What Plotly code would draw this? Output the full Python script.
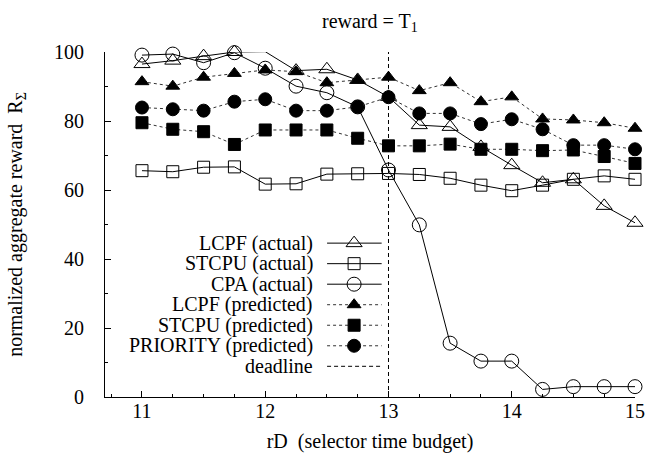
import plotly.graph_objects as go

# ---------------- data ----------------
x_budget = [11, 11.25, 11.5, 11.75, 12, 12.25, 12.5, 12.75, 13,
            13.25, 13.5, 13.75, 14, 14.25, 14.5, 14.75, 15]

lcpf_actual = [96.5, 97.5, 98.8, 100, 100.1, 94.6, 95.0, 91.9, 87.0,
               78.8, 78.3, 72.5, 67.2, 62.1, 63.1, 55.4, 50.5]
stcpu_actual = [65.6, 65.3, 66.6, 66.7, 61.7, 61.8, 64.6, 64.7, 64.8,
                64.5, 63.4, 61.4, 59.8, 61.4, 63.1, 64.1, 63.1]
cpa_actual = [99.1, 99.4, 96.9, 99.8, 95.3, 90.1, 88.2, 84.1, 65.8,
              49.9, 15.6, 10.4, 10.4, 2.2, 3.0, 3.0, 3.0]
lcpf_pred = [91.4, 90.1, 92.7, 93.8, 94.8, 94.3, 91.1, 91.9, 92.7,
             88.8, 91.1, 85.6, 87.0, 80.6, 80.3, 79.5, 77.9]
stcpu_pred = [79.5, 77.6, 76.9, 73.2, 77.4, 77.4, 77.4, 75.0, 72.8,
              72.8, 73.3, 71.8, 71.8, 71.4, 71.6, 69.7, 67.7]
priority_pred = [83.9, 83.4, 83.0, 85.6, 86.3, 83.0, 83.0, 84.1, 86.9,
                 82.2, 82.2, 79.1, 80.5, 77.6, 73.0, 73.0, 71.8]

deadline_x = [13, 13]
deadline_y = [0, 100]

series_names = ["LCPF (actual)", "STCPU (actual)", "CPA (actual)",
                "LCPF (predicted)", "STCPU (predicted)", "PRIORITY (predicted)",
                "deadline"]

x_ticks = [11, 12, 13, 14, 15]
y_ticks = [0, 20, 40, 60, 80, 100]

# ---------------- styles ----------------
FONT = "Liberation Serif, Times New Roman, Times, serif"
FS = 20
BLACK = "black"
DOT = "#333333"
DASH = "4px,3px"

styles = [
    dict(data=lcpf_actual, dash="solid", color=BLACK, symbol="triangle-up-open", size=14),
    dict(data=stcpu_actual, dash="solid", color=BLACK, symbol="square-open", size=12),
    dict(data=cpa_actual, dash="solid", color=BLACK, symbol="circle-open", size=14),
    dict(data=lcpf_pred, dash="dot", color=DOT, symbol="triangle-up", size=12),
    dict(data=stcpu_pred, dash="dot", color=DOT, symbol="square", size=12),
    dict(data=priority_pred, dash="dot", color=DOT, symbol="circle", size=13),
]

fig = go.Figure()

for name, st in zip(series_names, styles):
    fig.add_trace(go.Scatter(
        x=x_budget, y=st["data"], name=name, mode="lines+markers",
        line=dict(color=st["color"], width=1, dash=st["dash"]),
        marker=dict(symbol=st["symbol"], size=st["size"], color=BLACK,
                    line=dict(color=BLACK, width=1)),
        cliponaxis=False, showlegend=False,
    ))

fig.add_trace(go.Scatter(
    x=deadline_x, y=deadline_y, name=series_names[6], mode="lines",
    line=dict(color=BLACK, width=1, dash=DASH),
    cliponaxis=False, showlegend=False,
))

# ---------------- gnuplot-style key (text left, sample right) ----------------
key_text_x = 0.397
key_x0, key_xm, key_x1 = 0.419, 0.470, 0.522
key_top = 0.446
key_step = 0.0595

annotations = []
all_styles = styles + [dict(dash=DASH, color=BLACK, symbol=None, size=0)]
for i, (name, st) in enumerate(zip(series_names, all_styles)):
    yk = key_top - i * key_step
    annotations.append(dict(x=key_text_x, y=yk, xref="paper", yref="paper",
                            text=name, showarrow=False, xanchor="right",
                            yanchor="middle", font=dict(family=FONT, size=FS, color=BLACK)))
    fig.add_trace(go.Scatter(
        x=[key_x0, key_x1], y=[yk, yk], xaxis="x2", yaxis="y2", mode="lines",
        line=dict(color=st["color"], width=1, dash=st["dash"]),
        showlegend=False, hoverinfo="skip", cliponaxis=False,
    ))
    if st["symbol"]:
        fig.add_trace(go.Scatter(
            x=[key_xm], y=[yk], xaxis="x2", yaxis="y2", mode="markers",
            marker=dict(symbol=st["symbol"], size=st["size"], color=BLACK,
                        line=dict(color=BLACK, width=1)),
            showlegend=False, hoverinfo="skip", cliponaxis=False,
        ))

annotations.append(dict(text="reward = T<sub>1</sub>", x=0.5, y=1, xref="paper", yref="paper",
                        yshift=30, showarrow=False, xanchor="center", yanchor="middle",
                        font=dict(family=FONT, size=FS, color=BLACK)))

fig.update_layout(
    template="none",
    width=656, height=460,
    margin=dict(l=105, r=21, t=52, b=63, autoexpand=False),
    paper_bgcolor="white", plot_bgcolor="white",
    font=dict(family=FONT, size=FS, color=BLACK),
    showlegend=False,
    hovermode=False,
    annotations=annotations,
    xaxis=dict(
        automargin=False,
        range=[10.7, 15], tickvals=x_ticks, ticktext=[str(v) for v in x_ticks],
        showgrid=False, zeroline=False, showline=True, linecolor=BLACK, linewidth=1,
        ticks="inside", ticklen=6, tickcolor=BLACK, tickwidth=1,
        minor=dict(dtick=0.25, tick0=11, ticks="inside", ticklen=3, tickcolor=BLACK, showgrid=False),
        ticklabelstandoff=-4,
        title=dict(text="rD&nbsp; (selector time budget)", standoff=12,
                   font=dict(family=FONT, size=FS)),
        tickfont=dict(family=FONT, size=FS),
    ),
    yaxis=dict(
        automargin=False,
        range=[0, 100], tickvals=y_ticks, ticktext=[str(v) for v in y_ticks],
        showgrid=False, zeroline=False, showline=True, linecolor=BLACK, linewidth=1,
        ticks="inside", ticklen=6, tickcolor=BLACK, tickwidth=1,
        minor=dict(dtick=10, tick0=0, ticks="inside", ticklen=3, tickcolor=BLACK, showgrid=False),
        ticklabelstandoff=16,
        title=dict(text="normalized aggregate reward&nbsp; R<sub>Σ</sub>", standoff=26,
                   font=dict(family=FONT, size=FS)),
        tickfont=dict(family=FONT, size=FS),
    ),
    xaxis2=dict(range=[0, 1], domain=[0, 1], anchor="y2", overlaying="x",
                visible=False, fixedrange=True),
    yaxis2=dict(range=[0, 1], domain=[0, 1], anchor="x2", overlaying="y",
                visible=False, fixedrange=True),
)

fig.write_html("out.html",
               config={"displayModeBar": False, "staticPlot": True},
               post_script="document.body.style.margin='0px';document.body.style.padding='0px';")
